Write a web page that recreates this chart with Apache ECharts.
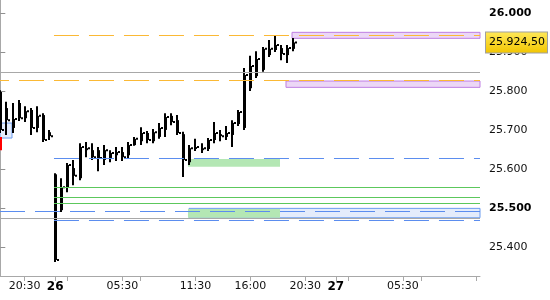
<!DOCTYPE html>
<html>
<head>
<meta charset="utf-8">
<script src="https://cdn.jsdelivr.net/npm/echarts@6/dist/echarts.min.js"></script>
<style>
html,body{margin:0;padding:0;background:#fff;}
#chart{width:550px;height:300px;}
</style>
</head>
<body>
<div id="chart"></div>
<script>
// ---- data ----
const barOpen  = [25797,25756,25705,25769,25730,25751,25705,25738,25694,25586,25494,25551,25602,25576,25648,25648,25648,25623,25628,25635,25643,25635,25661,25671,25692,25671,25682,25700,25736,25725,25689,25617,25651,25648,25651,25674,25689,25682,25687,25715,25705,25807,25838,25854,25892,25905,25910,25892,25908];
const barHigh  = [25802,25772,25769,25777,25761,25756,25761,25743,25700,25589,25576,25615,25623,25666,25669,25666,25656,25661,25648,25656,25656,25669,25682,25707,25697,25702,25718,25743,25743,25738,25695,25661,25677,25666,25679,25720,25700,25710,25725,25751,25859,25890,25902,25913,25931,25941,25918,25918,25936];
const barLow   = [25692,25687,25692,25723,25720,25687,25694,25669,25674,25361,25489,25540,25558,25571,25630,25623,25594,25610,25617,25620,25620,25628,25659,25661,25666,25666,25677,25682,25712,25687,25579,25610,25646,25641,25646,25666,25671,25674,25656,25710,25700,25800,25833,25849,25887,25900,25879,25872,25902];
const barClose = [25700,25725,25728,25730,25748,25705,25736,25674,25684,25366,25553,25610,25582,25656,25653,25630,25628,25648,25641,25643,25630,25661,25677,25692,25674,25694,25705,25733,25720,25692,25623,25653,25656,25653,25674,25692,25684,25692,25718,25746,25841,25864,25882,25908,25908,25918,25895,25910,25924.5];

const xMin = -0.05, xMax = 78.65;
const xTickSlots  = [4, 9, 11, 20, 23, 32, 41, 50, 55, 57, 66, 69, 78];
const xLabelSlots = [4, 9, 20, 32, 41, 50, 55, 66];
const xLabelTexts = ['20:30', '26', '05:30', '11:30', '16:00', '20:30', '27', '05:30'];

const yMin = 25325, yMax = 26033.4;
const yTicks = [25400, 25500, 25600, 25700, 25800, 25900, 26000];
const lastPrice = 25924.5;
const lastPriceText = '25.924,50';

// horizontal levels
const grayLevels   = [25848.5, 25473];
const orangeLevels = [25943.5, 25828];
const orangeStarts = [8.8, -0.05];
const blueLevels   = [25627, 25490, 25468];
const blueStarts   = [8.8, -0.05, 8.8];
const greenLevels  = [25552.5, 25526.8, 25511.3];
const greenStart   = 8.8;

// zones [x1, x2, yTop, yBottom]
const purpleZones = [[47.83, 78.65, 25950.4, 25935.0], [46.84, 78.65, 25825.4, 25809.2]];
const blueZones   = [[30.94, 78.65, 25498.6, 25474.5], [-0.05, 1.92, 25717.6, 25679.1]];
const greenZones  = [[30.77, 45.86, 25625.2, 25605.4], [30.77, 45.86, 25496.8, 25474.5]];
const redSegment  = [0.02, 25682, 25648];

// ---- build ----
const ohlc = barOpen.map((o, i) => [i, o, barHigh[i], barLow[i], barClose[i]]);

function fmtPrice(v) {
  const th = Math.floor(v / 1000);
  const r = Math.round(v - th * 1000);
  return th + '.' + String(r).padStart(3, '0');
}

function renderBar(params, api) {
  const i = api.value(0);
  const pO = api.coord([i, api.value(1)]);
  const pH = api.coord([i, api.value(2)]);
  const pL = api.coord([i, api.value(3)]);
  const pC = api.coord([i, api.value(4)]);
  const cx = Math.round(pO[0]);
  const yTop = Math.min(pO[1], pC[1]);
  const yBot = Math.max(pO[1], pC[1]);
  const style = { fill: '#000' };
  return {
    type: 'group',
    children: [
      { type: 'rect', shape: { x: cx - 1, y: pH[1], width: 2, height: pL[1] - pH[1] }, style },
      { type: 'rect', shape: { x: cx - 1, y: yTop, width: 3, height: Math.max(1.5, yBot - yTop) }, style },
      { type: 'rect', shape: { x: cx + 2, y: pC[1] - 1, width: 2, height: 2 }, style }
    ]
  };
}

function hLine(x1, y, color, dash, offset, width) {
  return [
    { coord: [x1, y], lineStyle: { color: color, width: width || 1, type: dash || 'solid', dashOffset: offset || 0 } },
    { coord: [xMax, y] }
  ];
}

const lines = [];
grayLevels.forEach(v => lines.push(hLine(xMin, v, '#a8a8a8')));
greenLevels.forEach(v => lines.push(hLine(greenStart, v, '#5cc85c')));
blueLevels.forEach((v, k) => lines.push(hLine(blueStarts[k], v, '#5b8def', [25, 10], 0)));
orangeLevels.forEach((v, k) => lines.push(hLine(orangeStarts[k], v, '#fbb935', [25, 10], orangeStarts[k] < 0 ? 16 : 0)));
lines.push([
  { coord: [redSegment[0], redSegment[1]], lineStyle: { color: '#ff0000', width: 2, type: 'solid' } },
  { coord: [redSegment[0], redSegment[2]] }
]);

function zone(z, fill, border) {
  return [
    { xAxis: z[0], yAxis: z[2], itemStyle: { color: fill, borderColor: border || 'transparent', borderWidth: border ? 1 : 0 } },
    { xAxis: z[1], yAxis: z[3] }
  ];
}
const areas = [];
purpleZones.forEach(z => areas.push(zone(z, '#ecd7f6', '#bf7fe3')));
blueZones.forEach(z => areas.push(zone(z, '#e4ecfb', '#6b9cf0')));
greenZones.forEach(z => areas.push(zone(z, '#b4e7b4')));

const chart = echarts.init(document.getElementById('chart'), null, { renderer: 'canvas' });
chart.setOption({
  animation: false,
  backgroundColor: '#ffffff',
  textStyle: { fontFamily: 'DejaVu Sans' },
  grid: { left: 0, right: 70, top: 0, bottom: 24, containLabel: false },
  xAxis: {
    type: 'value', min: xMin, max: xMax,
    axisLine: { show: true, lineStyle: { color: '#a8a8a8', width: 1 } },
    axisTick: { show: true, customValues: xTickSlots, length: 5, lineStyle: { color: '#a8a8a8' } },
    axisLabel: {
      show: true, customValues: xLabelSlots, margin: 5,
      color: '#111', fontSize: 11, fontFamily: 'DejaVu Sans',
      formatter: function (v) {
        const k = xLabelSlots.indexOf(Math.round(v));
        if (k < 0) return '';
        const t = xLabelTexts[k];
        return t.length === 2 ? '{d|' + t + '}' : t;
      },
      rich: { d: { fontSize: 12, fontWeight: 'bold', color: '#000', fontFamily: 'DejaVu Sans' } }
    },
    splitLine: { show: false }
  },
  yAxis: {
    type: 'value', position: 'right', min: yMin, max: yMax,
    axisLine: { show: true, lineStyle: { color: '#a8a8a8', width: 1 } },
    axisTick: { show: true, customValues: yTicks, length: 5, lineStyle: { color: '#909090' } },
    axisLabel: {
      show: true, customValues: yTicks, margin: 9,
      color: '#111', fontSize: 11, fontFamily: 'DejaVu Sans',
      formatter: function (v) {
        const s = fmtPrice(v);
        return (Math.round(v) % 500 === 0) ? '{b|' + s + '}' : s;
      },
      rich: { b: { fontWeight: 'bold', fontSize: 11, color: '#000', fontFamily: 'DejaVu Sans' } }
    },
    splitLine: { show: false }
  },
  series: [
    {
      type: 'line', data: [], z: 1, silent: true,
      markArea: { silent: true, label: { show: false }, data: areas }
    },
    {
      type: 'line', data: [], z: 2, silent: true,
      markLine: {
        silent: true, symbol: 'none', animation: false,
        label: { show: false },
        data: lines.concat([[
          { coord: [xMin, lastPrice], lineStyle: { color: 'transparent', width: 1 },
            label: {
              show: true, position: 'end', distance: 6, formatter: lastPriceText,
              color: '#000', fontSize: 11, fontFamily: 'DejaVu Sans', lineHeight: 14,
              padding: [3, 2, 3, 3],
              backgroundColor: new echarts.graphic.LinearGradient(0, 0, 0, 1, [
                { offset: 0, color: '#ffe95a' }, { offset: 1, color: '#f2c500' }
              ]),
              borderColor: '#a0a0a0', borderWidth: 1
            } },
          { coord: [xMax, lastPrice] }
        ]])
      }
    },
    {
      type: 'custom', z: 3, clip: true,
      renderItem: renderBar,
      encode: { x: 0, y: [1, 2, 3, 4] },
      data: ohlc
    }
  ]
});
</script>
</body>
</html>
